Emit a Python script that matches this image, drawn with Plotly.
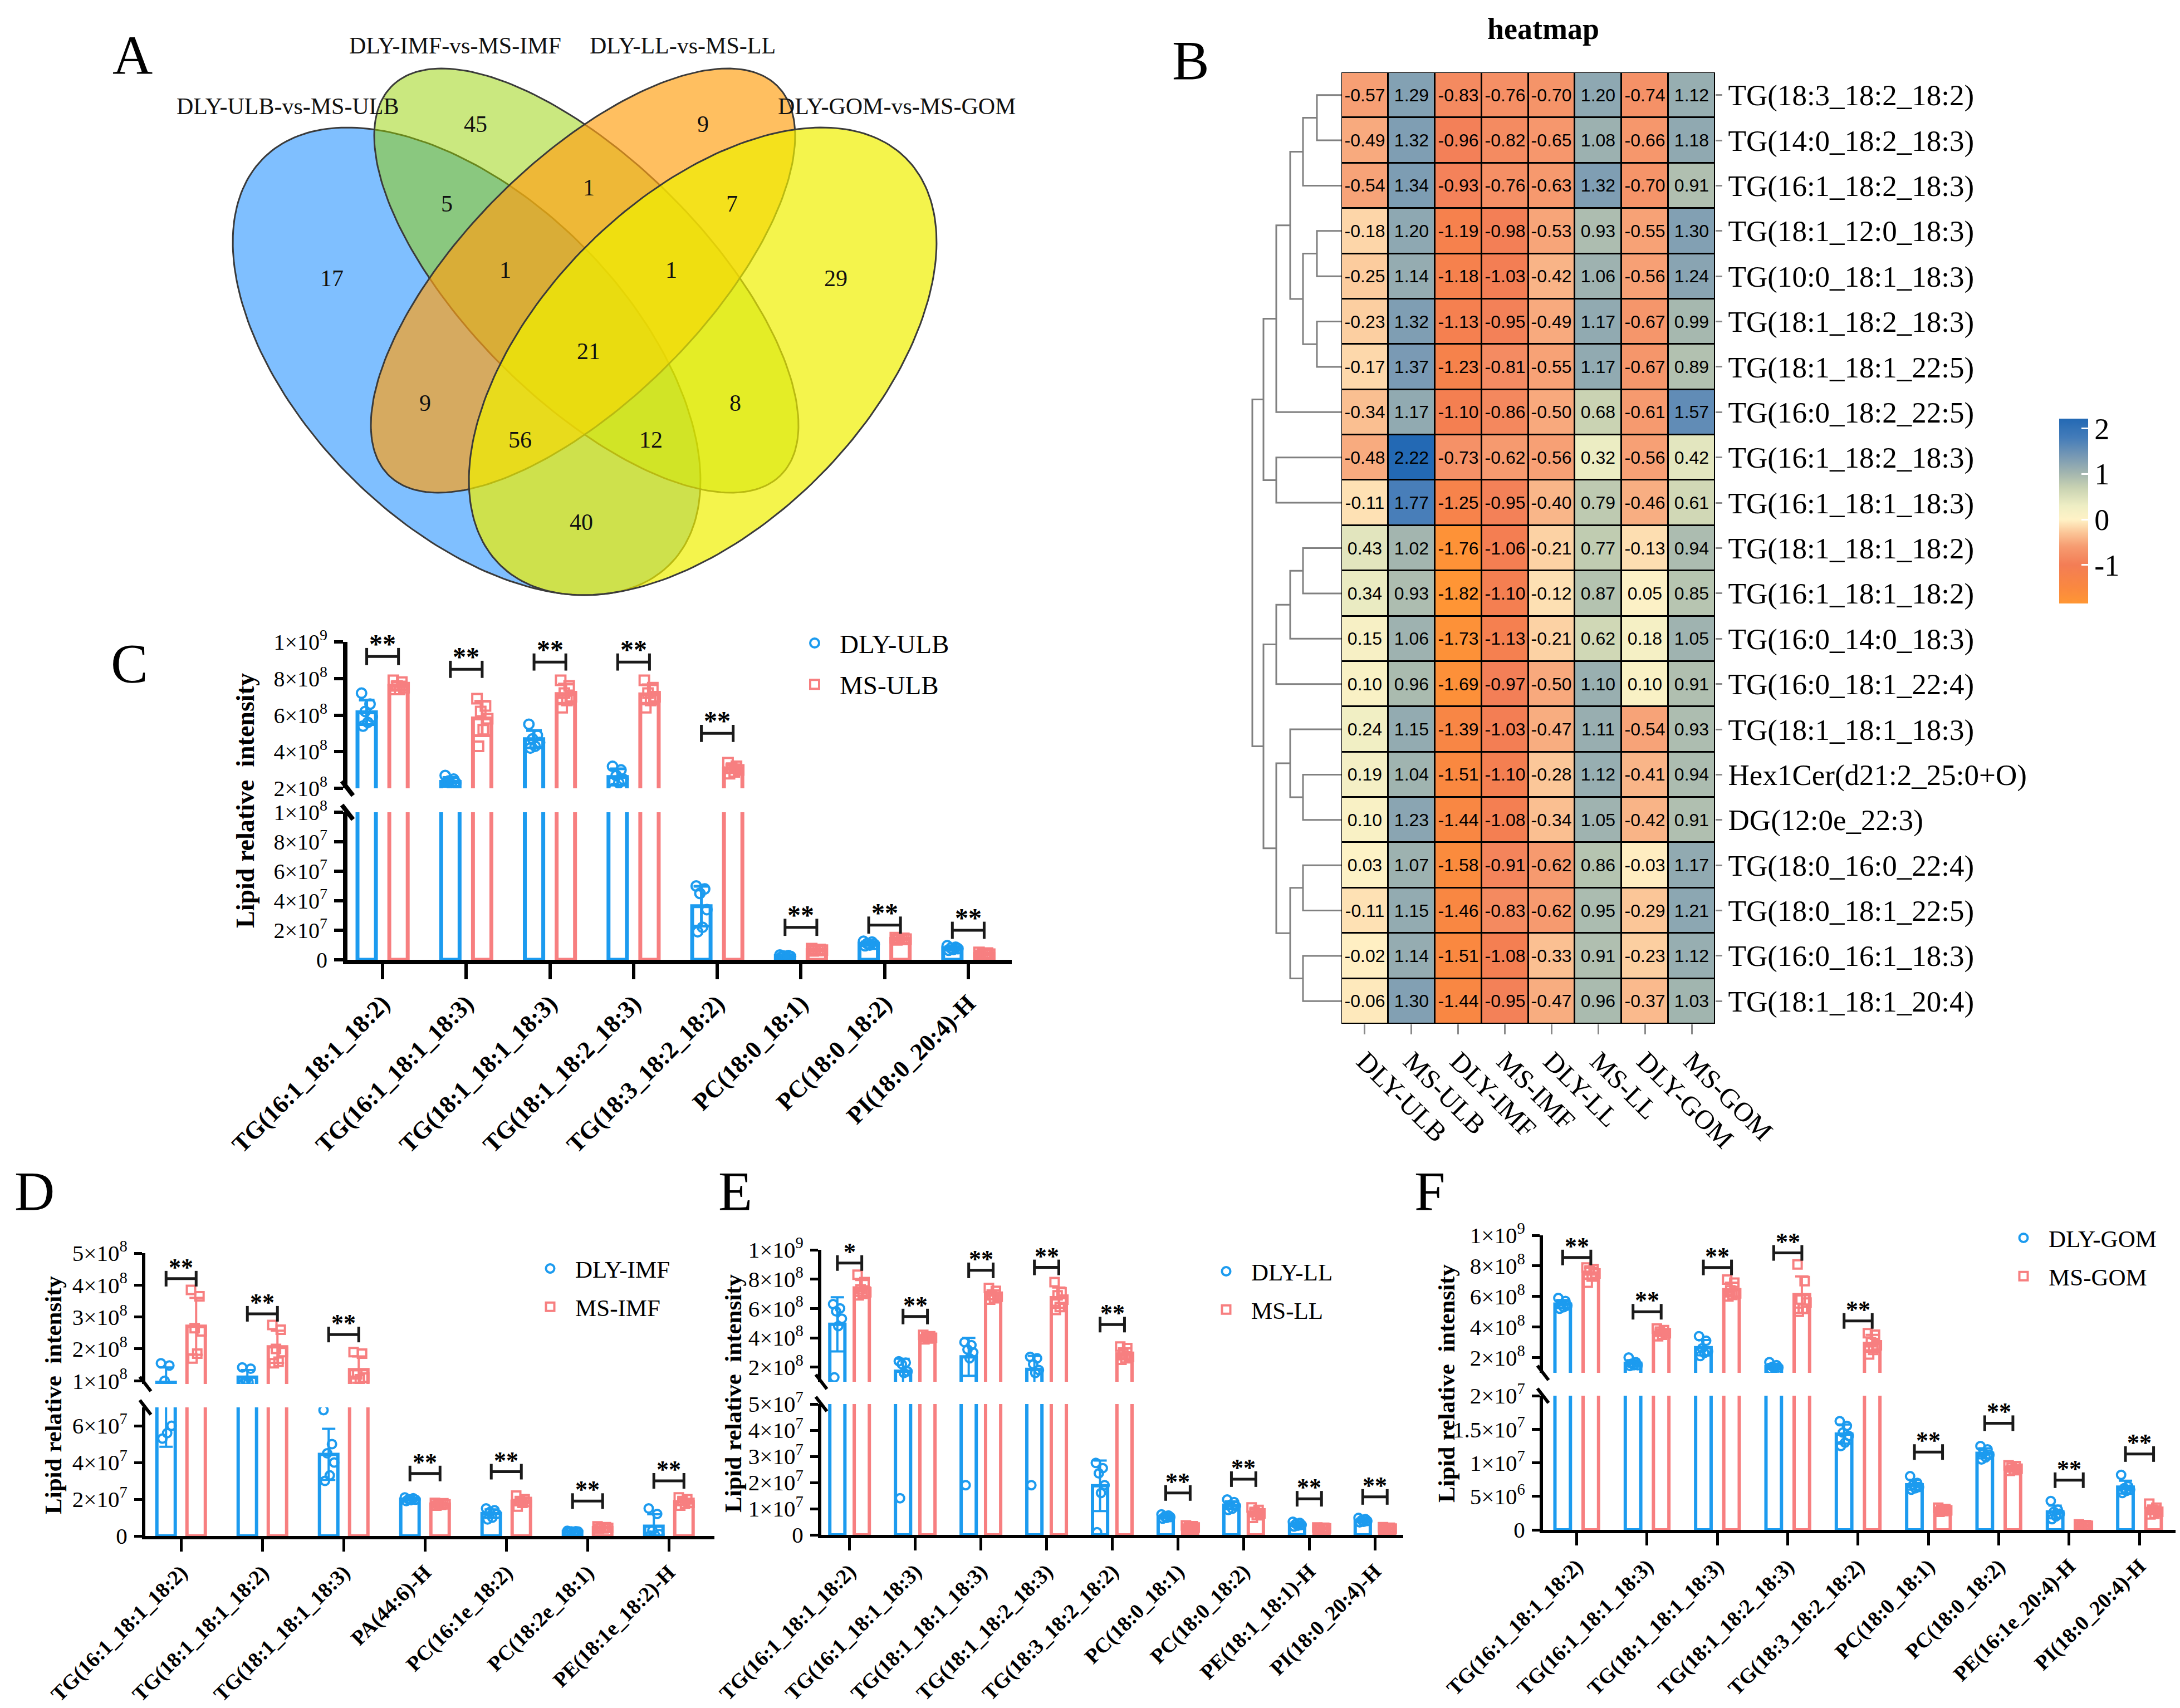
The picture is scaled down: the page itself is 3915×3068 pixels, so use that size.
import numpy as np
import plotly.graph_objects as go

W, H = 3915, 3068
SERIF = "Liberation Serif, Times New Roman, serif"
NARROW = "Liberation Sans Narrow, Arial Narrow, Liberation Sans, Arial, sans-serif"
BLUE = "#1C9BEF"
RED = "#F77F80"

# ---------------- Panel A : Venn ----------------
venn_set_names = ["DLY-ULB-vs-MS-ULB", "DLY-IMF-vs-MS-IMF", "DLY-LL-vs-MS-LL", "DLY-GOM-vs-MS-GOM"]
venn_regions = ["ULB", "IMF", "LL", "GOM", "ULB&IMF", "IMF&LL", "LL&GOM", "ULB&IMF&LL",
                "IMF&LL&GOM", "ALL", "ULB&LL", "IMF&GOM", "ULB&LL&GOM", "ULB&IMF&GOM", "ULB&GOM"]
venn_counts = [17, 45, 9, 29, 5, 1, 7, 1, 1, 21, 9, 8, 56, 12, 40]

# ---------------- Panel B : heatmap ----------------
hm_cols = ["DLY-ULB", "MS-ULB", "DLY-IMF", "MS-IMF", "DLY-LL", "MS-LL", "DLY-GOM", "MS-GOM"]
hm_rows = ["TG(18:3_18:2_18:2)", "TG(14:0_18:2_18:3)", "TG(16:1_18:2_18:3)", "TG(18:1_12:0_18:3)",
           "TG(10:0_18:1_18:3)", "TG(18:1_18:2_18:3)", "TG(18:1_18:1_22:5)", "TG(16:0_18:2_22:5)",
           "TG(16:1_18:2_18:3)", "TG(16:1_18:1_18:3)", "TG(18:1_18:1_18:2)", "TG(16:1_18:1_18:2)",
           "TG(16:0_14:0_18:3)", "TG(16:0_18:1_22:4)", "TG(18:1_18:1_18:3)", "Hex1Cer(d21:2_25:0+O)",
           "DG(12:0e_22:3)", "TG(18:0_16:0_22:4)", "TG(18:0_18:1_22:5)", "TG(16:0_16:1_18:3)",
           "TG(18:1_18:1_20:4)"]
hm_values = [
    [-0.57, 1.29, -0.83, -0.76, -0.70, 1.20, -0.74, 1.12],
    [-0.49, 1.32, -0.96, -0.82, -0.65, 1.08, -0.66, 1.18],
    [-0.54, 1.34, -0.93, -0.76, -0.63, 1.32, -0.70, 0.91],
    [-0.18, 1.20, -1.19, -0.98, -0.53, 0.93, -0.55, 1.30],
    [-0.25, 1.14, -1.18, -1.03, -0.42, 1.06, -0.56, 1.24],
    [-0.23, 1.32, -1.13, -0.95, -0.49, 1.17, -0.67, 0.99],
    [-0.17, 1.37, -1.23, -0.81, -0.55, 1.17, -0.67, 0.89],
    [-0.34, 1.17, -1.10, -0.86, -0.50, 0.68, -0.61, 1.57],
    [-0.48, 2.22, -0.73, -0.62, -0.56, 0.32, -0.56, 0.42],
    [-0.11, 1.77, -1.25, -0.95, -0.40, 0.79, -0.46, 0.61],
    [0.43, 1.02, -1.76, -1.06, -0.21, 0.77, -0.13, 0.94],
    [0.34, 0.93, -1.82, -1.10, -0.12, 0.87, 0.05, 0.85],
    [0.15, 1.06, -1.73, -1.13, -0.21, 0.62, 0.18, 1.05],
    [0.10, 0.96, -1.69, -0.97, -0.50, 1.10, 0.10, 0.91],
    [0.24, 1.15, -1.39, -1.03, -0.47, 1.11, -0.54, 0.93],
    [0.19, 1.04, -1.51, -1.10, -0.28, 1.12, -0.41, 0.94],
    [0.10, 1.23, -1.44, -1.08, -0.34, 1.05, -0.42, 0.91],
    [0.03, 1.07, -1.58, -0.91, -0.62, 0.86, -0.03, 1.17],
    [-0.11, 1.15, -1.46, -0.83, -0.62, 0.95, -0.29, 1.21],
    [-0.02, 1.14, -1.51, -1.08, -0.33, 0.91, -0.23, 1.12],
    [-0.06, 1.30, -1.44, -0.95, -0.47, 0.96, -0.37, 1.03],
]
hm_zmin, hm_zmax = -1.85, 2.22
hm_scale_z = [-1.85, -1.5, -1.0, -0.6, -0.3, 0.0, 0.3, 0.7, 1.0, 1.4, 1.8, 2.22]
hm_scale_c = ["rgb(255,150,52)", "rgb(250,136,64)", "rgb(243,125,85)", "rgb(246,155,112)",
              "rgb(251,196,150)", "rgb(255,242,198)", "rgb(238,238,196)", "rgb(200,210,178)",
              "rgb(165,183,175)", "rgb(118,152,180)", "rgb(68,124,185)", "rgb(35,105,180)"]
cbar_tickvals = [-1, 0, 1, 2]
cbar_ticktext = ["-1", "0", "1", "2"]
# dendrogram: merges of (child, child); leaves 0..20, new nodes numbered from 21
dend_merges = [(0, 1), (21, 2), (3, 4), (5, 6), (23, 24), (22, 25), (26, 7), (8, 9), (27, 28),
               (10, 11), (30, 12), (31, 13), (15, 16), (14, 33), (17, 18), (19, 20), (35, 36),
               (34, 37), (32, 38), (29, 39)]
dend_heights = [1.76, 2.76, 1.76, 1.76, 2.76, 3.68, 4.68, 4.68, 5.6, 2.76, 3.68, 4.68, 2.76,
                3.68, 2.76, 2.76, 3.68, 4.68, 5.6, 6.4]

# ---------------- Panel C : ULB ----------------
C_names = ["DLY-ULB", "MS-ULB"]
C_cats = ["TG(16:1_18:1_18:2)", "TG(16:1_18:1_18:3)", "TG(18:1_18:1_18:3)", "TG(18:1_18:2_18:3)",
          "TG(18:3_18:2_18:2)", "PC(18:0_18:1)", "PC(18:0_18:2)", "PI(18:0_20:4)-H"]
C_dly = [[7.2e8, 6.6e8, 6.2e8, 5.9e8, 5.6e8, 5.4e8],
         [2.7e8, 2.5e8, 2.4e8, 2.3e8, 2.2e8, 2.0e8],
         [5.5e8, 4.9e8, 4.7e8, 4.5e8, 4.3e8, 4.2e8],
         [3.2e8, 3.0e8, 2.7e8, 2.5e8, 2.3e8, 2.0e8],
         [5.0e7, 4.8e7, 4.5e7, 3.4e7, 2.2e7, 1.9e7],
         [3.2e6, 2.8e6, 2.5e6, 2.3e6, 2.1e6, 1.9e6],
         [1.25e7, 1.2e7, 1.1e7, 1.05e7, 1.0e7, 0.95e7],
         [9.5e6, 8.5e6, 8.0e6, 7.5e6, 7.0e6, 6.5e6]]
C_ms = [[7.9e8, 7.8e8, 7.6e8, 7.5e8, 7.4e8, 7.4e8],
        [6.9e8, 6.5e8, 6.2e8, 5.8e8, 5.2e8, 4.3e8],
        [7.9e8, 7.6e8, 7.2e8, 7.0e8, 6.8e8, 6.4e8],
        [7.9e8, 7.5e8, 7.2e8, 7.0e8, 6.8e8, 6.4e8],
        [3.4e8, 3.2e8, 3.1e8, 3.0e8, 2.9e8, 2.8e8],
        [7.5e6, 7.0e6, 6.8e6, 6.5e6, 6.2e6, 6.0e6],
        [1.5e7, 1.45e7, 1.42e7, 1.4e7, 1.38e7, 1.35e7],
        [5.0e6, 4.5e6, 4.0e6, 3.8e6, 3.5e6, 3.0e6]]
C_sig = ["**"] * 8
C_bracket = [9.2e8, 8.5e8, 8.9e8, 8.9e8, 5.0e8, 2.2e7, 2.35e7, 2.0e7]
C_low_range, C_up_range = [0, 1e8], [2e8, 1e9]
C_low_tv = [0, 2e7, 4e7, 6e7, 8e7, 1e8]
C_low_tt = ["0", "2×10<sup>7</sup>", "4×10<sup>7</sup>", "6×10<sup>7</sup>", "8×10<sup>7</sup>", "1×10<sup>8</sup>"]
C_up_tv = [2e8, 4e8, 6e8, 8e8, 1e9]
C_up_tt = ["2×10<sup>8</sup>", "4×10<sup>8</sup>", "6×10<sup>8</sup>", "8×10<sup>8</sup>", "1×10<sup>9</sup>"]

# ---------------- Panel D : IMF ----------------
D_names = ["DLY-IMF", "MS-IMF"]
D_cats = ["TG(16:1_18:1_18:2)", "TG(18:1_18:1_18:2)", "TG(18:1_18:1_18:3)", "PA(44:6)-H",
          "PC(16:1e_18:2)", "PC(18:2e_18:1)", "PE(18:1e_18:2)-H"]
D_dly = [[1.55e8, 1.48e8, 1.0e8, 6.0e7, 5.6e7, 5.3e7],
         [1.42e8, 1.38e8, 1.0e8, 9.8e7, 9.6e7, 9.3e7],
         [6.85e7, 5.0e7, 4.5e7, 4.0e7, 3.3e7, 3.0e7],
         [2.1e7, 2.05e7, 2.0e7, 1.98e7, 1.95e7, 1.9e7],
         [1.5e7, 1.4e7, 1.3e7, 1.2e7, 1.0e7, 0.9e7],
         [2.8e6, 2.6e6, 2.5e6, 2.4e6, 2.3e6, 2.2e6],
         [1.5e7, 1.2e7, 3.0e6, 1.0e6, 5e5, 2e5]]
D_ms = [[3.85e8, 3.65e8, 2.65e8, 2.55e8, 1.85e8, 1.7e8],
        [2.75e8, 2.6e8, 2.0e8, 1.9e8, 1.6e8, 1.55e8],
        [1.9e8, 1.85e8, 1.2e8, 1.1e8, 1.05e8, 1.0e8],
        [1.8e7, 1.78e7, 1.75e7, 1.72e7, 1.7e7, 1.65e7],
        [2.2e7, 2.0e7, 1.9e7, 1.85e7, 1.8e7, 1.6e7],
        [5.2e6, 4.8e6, 4.6e6, 4.4e6, 4.2e6, 4.0e6],
        [2.1e7, 2.0e7, 1.9e7, 1.8e7, 1.75e7, 1.65e7]]
D_sig = ["**"] * 7
D_bracket = [4.2e8, 3.1e8, 2.45e8, 3.4e7, 3.5e7, 1.9e7, 3.0e7]
D_low_range, D_up_range = [0, 7e7], [0.9e8, 5e8]
D_low_tv = [0, 2e7, 4e7, 6e7]
D_low_tt = ["0", "2×10<sup>7</sup>", "4×10<sup>7</sup>", "6×10<sup>7</sup>"]
D_up_tv = [1e8, 2e8, 3e8, 4e8, 5e8]
D_up_tt = ["1×10<sup>8</sup>", "2×10<sup>8</sup>", "3×10<sup>8</sup>", "4×10<sup>8</sup>", "5×10<sup>8</sup>"]

# ---------------- Panel E : LL ----------------
E_names = ["DLY-LL", "MS-LL"]
E_cats = ["TG(16:1_18:1_18:2)", "TG(16:1_18:1_18:3)", "TG(18:1_18:1_18:3)", "TG(18:1_18:2_18:3)",
          "TG(18:3_18:2_18:2)", "PC(18:0_18:1)", "PC(18:0_18:2)", "PE(18:1_18:1)-H", "PI(18:0_20:4)-H"]
E_dly = [[6.3e8, 6.0e8, 5.8e8, 5.3e8, 4.8e8, 1.3e8],
         [2.4e8, 2.3e8, 2.2e8, 1.7e8, 1.6e8, 1.4e7],
         [3.7e8, 3.5e8, 3.2e8, 3.0e8, 2.6e8, 1.9e7],
         [2.7e8, 2.6e8, 2.2e8, 1.8e8, 1.6e8, 1.9e7],
         [2.75e7, 2.55e7, 2.35e7, 1.9e7, 1.6e7, 1.0e6],
         [7.8e6, 7.4e6, 7.0e6, 6.8e6, 6.5e6, 6.2e6],
         [1.35e7, 1.25e7, 1.15e7, 1.1e7, 1.0e7, 0.95e7],
         [5.0e6, 4.6e6, 4.2e6, 3.8e6, 3.5e6, 3.2e6],
         [6.5e6, 6.0e6, 5.6e6, 5.3e6, 5.0e6, 4.8e6]]
E_ms = [[8.3e8, 7.8e8, 7.3e8, 7.1e8, 7.0e8, 6.9e8],
        [4.2e8, 4.1e8, 4.05e8, 4.0e8, 3.95e8, 3.9e8],
        [7.4e8, 7.2e8, 6.9e8, 6.8e8, 6.7e8, 6.6e8],
        [7.8e8, 7.1e8, 6.9e8, 6.6e8, 6.1e8, 5.9e8],
        [3.4e8, 3.3e8, 2.9e8, 2.7e8, 2.6e8, 2.5e8],
        [3.6e6, 3.3e6, 3.0e6, 2.8e6, 2.6e6, 2.4e6],
        [1.05e7, 9.5e6, 8.8e6, 8.2e6, 7.5e6, 6.5e6],
        [2.8e6, 2.7e6, 2.6e6, 2.5e6, 2.4e6, 2.3e6],
        [2.9e6, 2.7e6, 2.5e6, 2.4e6, 2.3e6, 2.2e6]]
E_sig = ["*"] + ["**"] * 8
E_bracket = [9.1e8, 5.45e8, 8.6e8, 8.8e8, 4.9e8, 1.6e7, 2.13e7, 1.38e7, 1.45e7]
E_low_range, E_up_range = [0, 5e7], [1e8, 1e9]
E_low_tv = [0, 1e7, 2e7, 3e7, 4e7, 5e7]
E_low_tt = ["0", "1×10<sup>7</sup>", "2×10<sup>7</sup>", "3×10<sup>7</sup>", "4×10<sup>7</sup>", "5×10<sup>7</sup>"]
E_up_tv = [2e8, 4e8, 6e8, 8e8, 1e9]
E_up_tt = ["2×10<sup>8</sup>", "4×10<sup>8</sup>", "6×10<sup>8</sup>", "8×10<sup>8</sup>", "1×10<sup>9</sup>"]

# ---------------- Panel F : GOM ----------------
F_names = ["DLY-GOM", "MS-GOM"]
F_cats = ["TG(16:1_18:1_18:2)", "TG(16:1_18:1_18:3)", "TG(18:1_18:1_18:3)", "TG(18:1_18:2_18:3)",
          "TG(18:3_18:2_18:2)", "PC(18:0_18:1)", "PC(18:0_18:2)", "PE(16:1e_20:4)-H", "PI(18:0_20:4)-H"]
F_dly = [[5.9e8, 5.7e8, 5.5e8, 5.4e8, 5.3e8, 5.2e8],
         [2.0e8, 1.7e8, 1.6e8, 1.5e8, 1.5e8, 1.45e8],
         [3.4e8, 3.1e8, 2.6e8, 2.4e8, 2.3e8, 2.1e8],
         [1.7e8, 1.5e8, 1.4e8, 1.35e8, 1.3e8, 1.25e8],
         [1.62e7, 1.55e7, 1.45e7, 1.4e7, 1.3e7, 1.25e7],
         [8.0e6, 7.0e6, 6.7e6, 6.4e6, 6.2e6, 6.0e6],
         [1.25e7, 1.2e7, 1.15e7, 1.12e7, 1.08e7, 1.05e7],
         [4.3e6, 3.0e6, 2.7e6, 2.4e6, 2.0e6, 1.6e6],
         [8.2e6, 6.5e6, 6.2e6, 6.0e6, 5.8e6, 5.5e6]]
F_ms = [[7.9e8, 7.8e8, 7.7e8, 7.5e8, 7.3e8, 6.9e8],
        [3.9e8, 3.8e8, 3.7e8, 3.6e8, 3.5e8, 3.4e8],
        [7.1e8, 6.9e8, 6.4e8, 6.2e8, 6.1e8, 6.0e8],
        [8.1e8, 7.0e8, 5.8e8, 5.6e8, 5.2e8, 5.0e8],
        [3.6e8, 3.5e8, 3.0e8, 2.8e8, 2.5e8, 2.2e8],
        [3.3e6, 3.1e6, 3.0e6, 2.9e6, 2.8e6, 2.7e6],
        [9.6e6, 9.5e6, 9.3e6, 9.1e6, 8.9e6, 8.8e6],
        [8e5, 7e5, 6e5, 6e5, 5e5, 5e5],
        [3.9e6, 3.3e6, 3.0e6, 2.7e6, 2.4e6, 2.3e6]]
F_sig = ["**"] * 9
F_bracket = [8.55e8, 5.0e8, 7.9e8, 8.85e8, 4.4e8, 1.16e7, 1.59e7, 7.4e6, 1.13e7]
F_low_range, F_up_range = [0, 2e7], [1e8, 1e9]
F_low_tv = [0, 5e6, 1e7, 1.5e7, 2e7]
F_low_tt = ["0", "5×10<sup>6</sup>", "1×10<sup>7</sup>", "1.5×10<sup>7</sup>", "2×10<sup>7</sup>"]
F_up_tv = [2e8, 4e8, 6e8, 8e8, 1e9]
F_up_tt = ["2×10<sup>8</sup>", "4×10<sup>8</sup>", "6×10<sup>8</sup>", "8×10<sup>8</sup>", "1×10<sup>9</sup>"]

# =================== helpers ===================
def fx(px):
    return px / W


def fy(py):
    return 1 - py / H


def axref(letter, k):
    return letter if k == 1 else f"{letter}{k}"


def axkey(letter, k):
    return f"{letter}axis" if k == 1 else f"{letter}axis{k}"


fig = go.Figure()
lay = {}
ann = []
shapes = []

JIT = [-0.28, 0.18, -0.08, 0.3, 0.06, -0.2]


def bar_panel(k, cats, dly, ms, names, sig, brk, low_rng, low_tv, low_tt, up_rng, up_tv, up_tt, g, legend_id):
    kl, ku = k, k + 1
    xl, yl, xu, yu = axref("x", kl), axref("y", kl), axref("x", ku), axref("y", ku)
    n = len(cats)
    idx = np.arange(n)
    off, w = g["off"], g["w"]
    for vals, sgn, color, sym, name in [(dly, -1, BLUE, "circle-open", names[0]),
                                        (ms, 1, RED, "square-open", names[1])]:
        arr = [np.array(v, dtype=float) for v in vals]
        means = [a.mean() for a in arr]
        sds = [a.std(ddof=1) for a in arr]
        xs = idx + sgn * off
        for xa, ya, first in [(xl, yl, False), (xu, yu, True)]:
            fig.add_trace(go.Bar(
                x=xs, y=means, width=w, xaxis=xa, yaxis=ya, showlegend=False, hoverinfo="skip",
                marker=dict(color="rgba(255,255,255,0)", line=dict(color=color, width=g["blw"])),
                error_y=dict(type="data", array=sds, color=color, thickness=g["elw"], width=g["ecap"])))
            pxs, pys = [], []
            for i, a in enumerate(arr):
                for j, v in enumerate(a):
                    pxs.append(xs[i] + JIT[j % len(JIT)] * w)
                    pys.append(v)
            fig.add_trace(go.Scatter(
                x=pxs, y=pys, mode="markers", xaxis=xa, yaxis=ya, name=name,
                showlegend=first, legend=legend_id, legendgroup=f"{legend_id}-{name}", hoverinfo="skip",
                marker=dict(symbol=sym, size=g["ms"], color=color, line=dict(width=g["mlw"], color=color))))
    for i in range(n):
        b = brk[i]
        xa, ya = (xu, yu) if b > low_rng[1] else (xl, yl)
        fig.add_trace(go.Scatter(
            x=[i - off, i + off], y=[b, b], mode="lines+markers", xaxis=xa, yaxis=ya,
            showlegend=False, hoverinfo="skip", cliponaxis=False,
            line=dict(color="#1a1a1a", width=g["brw"]),
            marker=dict(symbol="line-ns", size=g["cap"], color="#1a1a1a", line=dict(width=g["brw"], color="#1a1a1a"))))
        ann.append(dict(x=i, y=b, xref=xa, yref=ya, text=sig[i], showarrow=False, xanchor="center",
                        yanchor="bottom", yshift=g["syshift"],
                        font=dict(family=SERIF, size=g["sfs"], color="black", weight="bold")))
    x0, x1 = g["x0"], g["x1"]
    common_y = dict(showline=True, linewidth=g["alw"], linecolor="black", ticks="outside", ticklen=g["ytl"],
                    tickwidth=g["tw"], tickcolor="black", showgrid=False, zeroline=False, automargin=False,
                    tickfont=dict(family=SERIF, size=g["yfs"], color="black"), ticklabelstandoff=4)
    lay[axkey("x", kl)] = dict(domain=[fx(x0), fx(x1)], range=g["xr"], anchor=yl, tickmode="array",
                               tickvals=list(idx), ticktext=cats, tickangle=-45, ticks="outside",
                               ticklen=g["xtl"], tickwidth=g["tw"], tickcolor="black", showline=True,
                               linewidth=g["alw"], linecolor="black", showgrid=False, zeroline=False,
                               automargin=False,
                               tickfont=dict(family=SERIF, size=g["cfs"], color="black", weight="bold"))
    lay[axkey("x", ku)] = dict(domain=[fx(x0), fx(x1)], range=g["xr"], anchor=yu, visible=False,
                               automargin=False)
    lay[axkey("y", kl)] = dict(domain=[fy(g["low"][0]), fy(g["low"][1])], range=low_rng, anchor=xl,
                               tickmode="array", tickvals=low_tv, ticktext=low_tt, **common_y)
    lay[axkey("y", ku)] = dict(domain=[fy(g["up"][0]), fy(g["up"][1])], range=up_rng, anchor=xu,
                               tickmode="array", tickvals=up_tv, ticktext=up_tt, **common_y)
    # axis-break strokes
    for yy in (g["up"][0], g["low"][1]):
        shapes.append(dict(type="line", xref="paper", yref="paper", x0=fx(x0 - 10), y0=fy(yy - 13),
                           x1=fx(x0 + 10), y1=fy(yy + 13), line=dict(color="black", width=g["alw"])))
    lay[legend_id] = dict(x=fx(g["lg"][0]), y=fy(g["lg"][1]), xanchor="left", yanchor="top",
                          font=dict(family=SERIF, size=g["lfs"], color="black"), bgcolor="rgba(0,0,0,0)",
                          tracegroupgap=g["lgap"], itemwidth=80)
    ann.append(dict(x=fx(g["yt"][0]), y=fy(g["yt"][1]), xref="paper", yref="paper", text="Lipid relative  intensity",
                    textangle=-90, showarrow=False, xanchor="center", yanchor="middle",
                    font=dict(family=SERIF, size=g["ytfs"], color="black", weight="bold")))


base_big = dict(blw=7, elw=5, ecap=14, ms=17, mlw=4, brw=5, cap=22, sfs=48, syshift=-6, alw=8, xtl=27,
                ytl=16, tw=6, cfs=44, yfs=40, lfs=47, lgap=10, ytfs=46)
base_small = dict(blw=6, elw=4, ecap=12, ms=15, mlw=4, brw=5, cap=20, sfs=44, syshift=-6, alw=6, xtl=22,
                  ytl=14, tw=5, cfs=38, yfs=41, lfs=43, lgap=10, ytfs=43)

gC = dict(base_big, x0=616, x1=1809, xr=[-0.42, 7.52], low=(1716, 1451), up=(1408, 1145), off=0.19, w=0.22,
          lg=(1410, 1110), yt=(432, 1430))
gD = dict(base_small, x0=253, x1=1275, xr=[-0.44, 6.56], low=(2751, 2520), up=(2478, 2243), off=0.185,
          w=0.226, lg=(935, 2236), yt=(87, 2498))
gE = dict(base_small, x0=1467, x1=2512, xr=[-0.43, 8.43], low=(2749, 2514), up=(2474, 2237), off=0.186,
          w=0.23, lg=(2149, 2241), yt=(1308, 2495))
gF = dict(base_small, x0=2763, x1=3900, xr=[-0.48, 8.52], low=(2740, 2499), up=(2458, 2211), off=0.2,
          w=0.22, lg=(3581, 2181), yt=(2589, 2477))

bar_panel(1, C_cats, C_dly, C_ms, C_names, C_sig, C_bracket, C_low_range, C_low_tv, C_low_tt,
          C_up_range, C_up_tv, C_up_tt, gC, "legend")
bar_panel(3, D_cats, D_dly, D_ms, D_names, D_sig, D_bracket, D_low_range, D_low_tv, D_low_tt,
          D_up_range, D_up_tv, D_up_tt, gD, "legend2")
bar_panel(5, E_cats, E_dly, E_ms, E_names, E_sig, E_bracket, E_low_range, E_low_tv, E_low_tt,
          E_up_range, E_up_tv, E_up_tt, gE, "legend3")
bar_panel(7, F_cats, F_dly, F_ms, F_names, F_sig, F_bracket, F_low_range, F_low_tv, F_low_tt,
          F_up_range, F_up_tv, F_up_tt, gF, "legend4")

# =================== heatmap ===================
HM_L, HM_R, HM_T, HM_B = 2401, 3072, 122, 1831
nrow, ncol = len(hm_rows), len(hm_cols)
cscale = [[(z - hm_zmin) / (hm_zmax - hm_zmin), c] for z, c in zip(hm_scale_z, hm_scale_c)]
fig.add_trace(go.Heatmap(
    z=hm_values, x=list(range(ncol)), y=list(range(nrow)), xaxis="x9", yaxis="y9",
    zmin=hm_zmin, zmax=hm_zmax, colorscale=cscale, xgap=3, ygap=3, hoverinfo="skip",
    text=[[f"{v:.2f}" for v in row] for row in hm_values], texttemplate="%{text}",
    textfont=dict(family=NARROW, size=32, color="black"),
    colorbar=dict(x=fx(3680), xanchor="left", y=fy(910), yanchor="middle", len=352, lenmode="pixels",
                  thickness=52, thicknessmode="pixels", outlinewidth=0, tickmode="array",
                  tickvals=cbar_tickvals, ticktext=cbar_ticktext, ticks="inside", ticklen=12,
                  tickcolor="white", tickwidth=3, tickfont=dict(family=SERIF, size=54, color="black"))))
shapes.append(dict(type="rect", xref="x9", yref="y9", x0=-0.5, x1=ncol - 0.5, y0=-0.5, y1=nrow - 0.5,
                   fillcolor="black", line=dict(color="black", width=3), layer="below"))
lay["xaxis9"] = dict(domain=[fx(HM_L), fx(HM_R)], range=[-0.5, ncol - 0.5], anchor="y9", tickmode="array",
                     tickvals=list(range(ncol)), ticktext=hm_cols, tickangle=45, ticks="outside", ticklen=18,
                     tickcolor="#8a8a8a", tickwidth=3, showline=False, showgrid=False, zeroline=False,
                     automargin=False, tickfont=dict(family=SERIF, size=49, color="black"))
lay["yaxis9"] = dict(domain=[fy(HM_B), fy(HM_T)], range=[nrow - 0.5, -0.5], anchor="x9", side="right",
                     tickmode="array", tickvals=list(range(nrow)), ticktext=hm_rows, ticks="outside",
                     ticklen=12, tickcolor="#8a8a8a", tickwidth=3, showline=False, showgrid=False,
                     zeroline=False, automargin=False, tickfont=dict(family=SERIF, size=53, color="black"))
ann.append(dict(x=fx(2763), y=fy(44), xref="paper", yref="paper", text="heatmap", showarrow=False,
                xanchor="center", yanchor="middle",
                font=dict(family=SERIF, size=54, color="black", weight="bold")))

# dendrogram
pos_y = {i: float(i) for i in range(nrow)}
pos_h = {i: 0.0 for i in range(nrow)}
dx, dy = [], []
for m, ((a, b), h) in enumerate(zip(dend_merges, dend_heights)):
    node = nrow + m
    dx += [pos_h[a], h, h, pos_h[b], None]
    dy += [pos_y[a], pos_y[a], pos_y[b], pos_y[b], None]
    pos_y[node] = (pos_y[a] + pos_y[b]) / 2
    pos_h[node] = h
fig.add_trace(go.Scatter(x=dx, y=dy, mode="lines", xaxis="x10", yaxis="y10", showlegend=False,
                         hoverinfo="skip", line=dict(color="#808080", width=3)))
lay["xaxis10"] = dict(domain=[fx(HM_L - 170), fx(HM_L)], range=[6.8, 0], anchor="y10", visible=False,
                      automargin=False)
lay["yaxis10"] = dict(domain=[fy(HM_B), fy(HM_T)], range=[nrow - 0.5, -0.5], anchor="x10", visible=False,
                      automargin=False)

# =================== Venn ===================
VENN_ELLIPSES = [  # cx, cy, a, b, angle, fill  (ULB, IMF, LL, GOM)
    (830, 641, 516, 294, 45, "rgba(0,128,255,0.5)"),
    (1045, 496, 494, 215, 45, "rgba(150,210,0,0.5)"),
    (1039, 496, 494, 215, -45, "rgba(255,160,20,0.68)"),
    (1254, 641, 516, 294, -45, "rgba(240,240,0,0.7)"),
]
t = np.linspace(0, 2 * np.pi, 240)
for cx, cy, a, b, ang, col in VENN_ELLIPSES:
    ca, sa = np.cos(np.radians(ang)), np.sin(np.radians(ang))
    ex = cx + a * np.cos(t) * ca - b * np.sin(t) * sa
    ey = cy + a * np.cos(t) * sa + b * np.sin(t) * ca
    fig.add_trace(go.Scatter(x=ex, y=ey, mode="lines", fill="toself", fillcolor=col, xaxis="x11", yaxis="y11",
                             line=dict(color="#3a3a3a", width=3), showlegend=False, hoverinfo="skip"))
lay["xaxis11"] = dict(domain=[fx(300), fx(1800)], range=[300, 1800], anchor="y11", visible=False,
                      automargin=False)
lay["yaxis11"] = dict(domain=[fy(1100), fy(0)], range=[1100, 0], anchor="x11", visible=False,
                      automargin=False)
VENN_LABEL_XY = [(588, 492), (846, 215), (1254, 215), (1493, 492), (794, 358), (1049, 329), (1306, 358),
                 (899, 477), (1197, 477), (1049, 623), (755, 716), (1312, 716), (926, 782), (1161, 782),
                 (1036, 930)]
for (lx, ly), c in zip(VENN_LABEL_XY, venn_counts):
    ann.append(dict(x=lx, y=ly, xref="x11", yref="y11", text=str(c), showarrow=False,
                    xanchor="center", yanchor="middle", font=dict(family=SERIF, size=42, color="#111")))
VENN_SET_XY = [(509, 183), (809, 74), (1218, 74), (1602, 183)]
for (lx, ly), s in zip(VENN_SET_XY, venn_set_names):
    ann.append(dict(x=fx(lx), y=fy(ly), xref="paper", yref="paper", text=s, showarrow=False,
                    xanchor="center", yanchor="middle", font=dict(family=SERIF, size=42, color="#111")))

# panel letters
for letter, (lx, ly) in zip("ABCDEF", [(230, 92), (2130, 100), (224, 1183), (54, 2131), (1312, 2131), (2560, 2131)]):
    ann.append(dict(x=fx(lx), y=fy(ly), xref="paper", yref="paper", text=letter, showarrow=False,
                    xanchor="center", yanchor="middle", font=dict(family=SERIF, size=100, color="black")))

fig.update_layout(template="none", width=W, height=H, autosize=False,
                  margin=dict(l=0, r=0, t=0, b=0, pad=0, autoexpand=False),
                  paper_bgcolor="white", plot_bgcolor="rgba(0,0,0,0)", barmode="overlay",
                  font=dict(family=SERIF, color="black"), annotations=ann, shapes=shapes, **lay)
fig.write_html("out.html")
